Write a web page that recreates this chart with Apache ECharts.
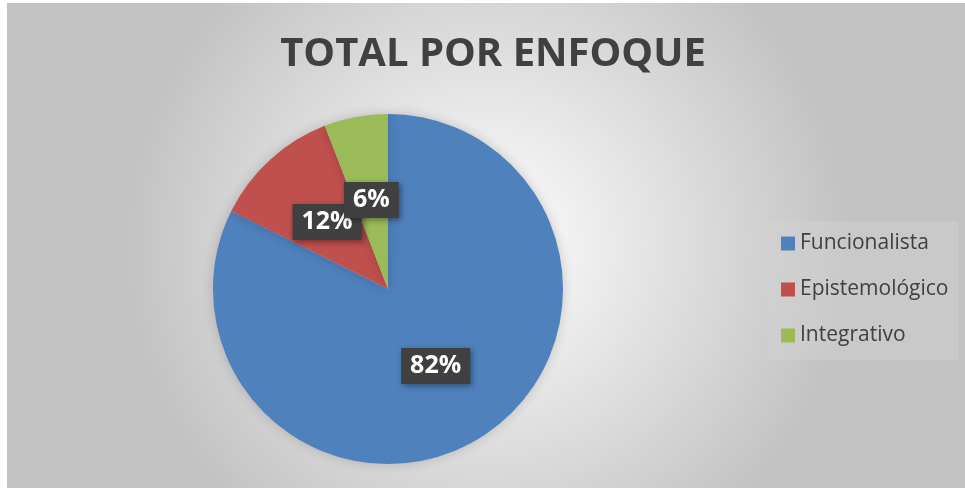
<!DOCTYPE html>
<html>
<head>
<meta charset="utf-8">
<script src="https://cdn.jsdelivr.net/npm/echarts@6/dist/echarts.min.js"></script>
<style>
  html, body { margin: 0; padding: 0; background: #ffffff; }
  #chart {
    position: absolute; left: 7px; top: 3px;
    width: 958px; height: 485px;
  }
</style>
</head>
<body>
<div id="chart"></div>
<script>
  // datos
  var categorias = ['Funcionalista', 'Epistemológico', 'Integrativo'];
  var valores = [14, 2, 1];
  var colores = ['#4F81BD', '#C0504D', '#9BBB59'];

  var serie = [];
  for (var i = 0; i < categorias.length; i++) {
    serie.push({ name: categorias[i], value: valores[i] });
  }

  var myChart = echarts.init(document.getElementById('chart'));
  myChart.setOption({
    backgroundColor: {
      type: 'radial', x: 0.5, y: 0.5, r: 0.75,
      colorStops: [
        { offset: 0, color: '#ffffff' },
        { offset: 1, color: '#c2c2c2' }
      ]
    },
    color: colores,
    title: {
      text: 'TOTAL POR ENFOQUE',
      left: 481, top: 27, textAlign: 'center',
      textStyle: {
        fontFamily: 'Open Sans', fontWeight: 'bold',
        fontSize: 40, color: '#404040'
      }
    },
    legend: {
      orient: 'vertical',
      left: 762, top: 218,
      padding: [12, 10, 14, 12],
      backgroundColor: 'rgba(210,210,210,0.45)',
      itemWidth: 14, itemHeight: 14,
      itemGap: 25,
      icon: 'rect',
      textStyle: { fontFamily: 'Open Sans', fontSize: 21, color: '#404040' }
    },
    series: [
      {
        type: 'pie',
        center: [381, 286],
        radius: 175,
        startAngle: 90,
        clockwise: true,
        percentPrecision: 0,
        data: serie,
        itemStyle: {
          shadowBlur: 12,
          shadowColor: 'rgba(0,0,0,0.18)'
        },
        labelLayout: { hideOverlap: false },
        label: {
          position: 'inside',
          formatter: '{d}%',
          fontFamily: 'Open Sans', fontWeight: 'bold',
          fontSize: 25, color: '#ffffff',
          backgroundColor: '#404040',
          padding: [7, 9, 4, 9],
          shadowBlur: 6, shadowColor: 'rgba(0,0,0,0.4)',
          shadowOffsetX: 2, shadowOffsetY: 2
        },
        labelLine: { show: false },
        emphasis: { disabled: true }
      }
    ]
  });
</script>
</body>
</html>
